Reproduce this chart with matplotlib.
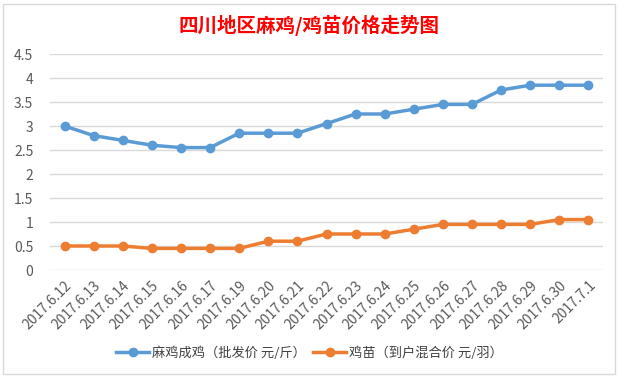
import matplotlib
matplotlib.use("Agg")
import matplotlib.pyplot as plt
from matplotlib.patches import Rectangle

plt.rcParams['font.family'] = ['Noto Sans CJK SC', 'DejaVu Sans']

dates = ["2017.6.12", "2017.6.13", "2017.6.14", "2017.6.15", "2017.6.16", "2017.6.17",
         "2017.6.19", "2017.6.20", "2017.6.21", "2017.6.22", "2017.6.23", "2017.6.24",
         "2017.6.25", "2017.6.26", "2017.6.27", "2017.6.28", "2017.6.29", "2017.6.30",
         "2017.7.1"]
adult = [3.0, 2.8, 2.7, 2.6, 2.55, 2.55, 2.85, 2.85, 2.85, 3.05, 3.25, 3.25,
         3.35, 3.45, 3.45, 3.75, 3.85, 3.85, 3.85]
chick = [0.5, 0.5, 0.5, 0.45, 0.45, 0.45, 0.45, 0.6, 0.6, 0.75, 0.75, 0.75,
         0.85, 0.95, 0.95, 0.95, 0.95, 1.05, 1.05]
yticks = [0, 0.5, 1, 1.5, 2, 2.5, 3, 3.5, 4, 4.5]
ytick_labels = ["0", "0.5", "1", "1.5", "2", "2.5", "3", "3.5", "4", "4.5"]
title = "四川地区麻鸡/鸡苗价格走势图"
label_adult = "麻鸡成鸡（批发价 元/斤）"
label_chick = "鸡苗（到户混合价 元/羽）"

W, H = 619, 377
fig = plt.figure(figsize=(W / 100, H / 100), dpi=100)
fig.patch.set_facecolor("white")

# chart border
fig.add_artist(Rectangle((3 / W, 3 / H), 612 / W, 370 / H, transform=fig.transFigure,
                         fill=False, edgecolor="#D9D9D9", linewidth=1))

ax = fig.add_axes([50 / W, 1 - 270 / H, 553 / W, 216 / H])
x = list(range(len(dates)))
ax.plot(x, adult, color="#5B9BD5", linewidth=2.5, marker="o", markersize=6,
        label=label_adult, zorder=3)
ax.plot(x, chick, color="#ED7D31", linewidth=2.5, marker="o", markersize=6,
        label=label_chick, zorder=3)

ax.set_xlim(-0.5, len(dates) - 0.5)
ax.set_ylim(0, 4.5)
ax.set_yticks(yticks)
ax.set_yticklabels(ytick_labels)
ax.set_xticks(x)
ax.set_xticklabels(dates, rotation=45, ha="right", rotation_mode="anchor")
ax.grid(axis="y", color="#D9D9D9", linewidth=1)
ax.set_axisbelow(True)
for s in ax.spines.values():
    s.set_visible(False)
ax.tick_params(axis="both", length=0, colors="#595959", labelsize=10)
ax.tick_params(axis="y", pad=12)
ax.tick_params(axis="x", pad=6)

fig.text(0.5, 1 - 25 / H, title, ha="center", va="center", color="#FF0000",
         fontsize=14, fontweight="bold")

fig.legend(loc="center", bbox_to_anchor=(0.5, 1 - 353 / H), ncol=2, frameon=False,
           fontsize=9.5, handlelength=2.5, columnspacing=0.6, handletextpad=0.2,
           labelcolor="#404040")

fig.savefig("out.png", dpi=100, facecolor="white")
